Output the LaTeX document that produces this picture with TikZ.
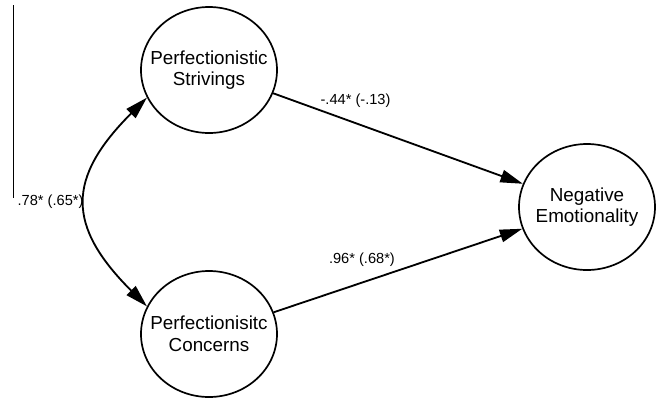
\documentclass[tikz,border=0pt]{standalone}
\usepackage{fontspec}
\setmainfont{Liberation Sans}
\usetikzlibrary{arrows.meta,shapes.geometric}

\begin{document}
\begin{tikzpicture}[
    latent/.style={draw, ellipse, line width=1.2pt, minimum width=3.4cm, minimum height=3.15cm, inner xsep=-0.5cm, inner ysep=0pt, align=center, font=\fontsize{13.4}{15.4}\selectfont},
    regpath/.style={-{Triangle[length=16pt, width=9pt]}, line width=1.3pt},
    covar/.style={{Triangle[length=16pt, width=9pt]}-{Triangle[length=16pt, width=9pt]}, line width=1.3pt},
    coef/.style={font=\fontsize{10.4}{12}\selectfont}
  ]
    \useasboundingbox (0, 0) rectangle (16.4, -9.975);

    % Margin rule
    \draw [line width=0.6pt] (0.325, -0.125) -- (0.325, -4.95);

    % Predictors
    \node [latent] (ps) at (5.225, -1.75) {Perfectionistic\\Strivings};
    \node [latent] (pc) at (5.225, -8.35) {Perfectionisitc\\Concerns};

    % Outcome
    \node [latent] (ne) at (14.675, -5.175) {Negative\\Emotionality};

    % Covariance
    \draw [covar] (ps.204) to [out=225, in=135, looseness=1.4] node [coef, midway, left, inner sep=1.5pt] {.78* (.65*)} (pc.156);

    % Paths
    \draw [regpath] (ps) -- (ne) node [coef, pos=0.33, above=0.25cm] {-.44* (-.13)};
    \draw [regpath] (pc) -- (ne) node [coef, pos=0.355, above=0.25cm] {.96* (.68*)};
  \end{tikzpicture}
\end{document}
